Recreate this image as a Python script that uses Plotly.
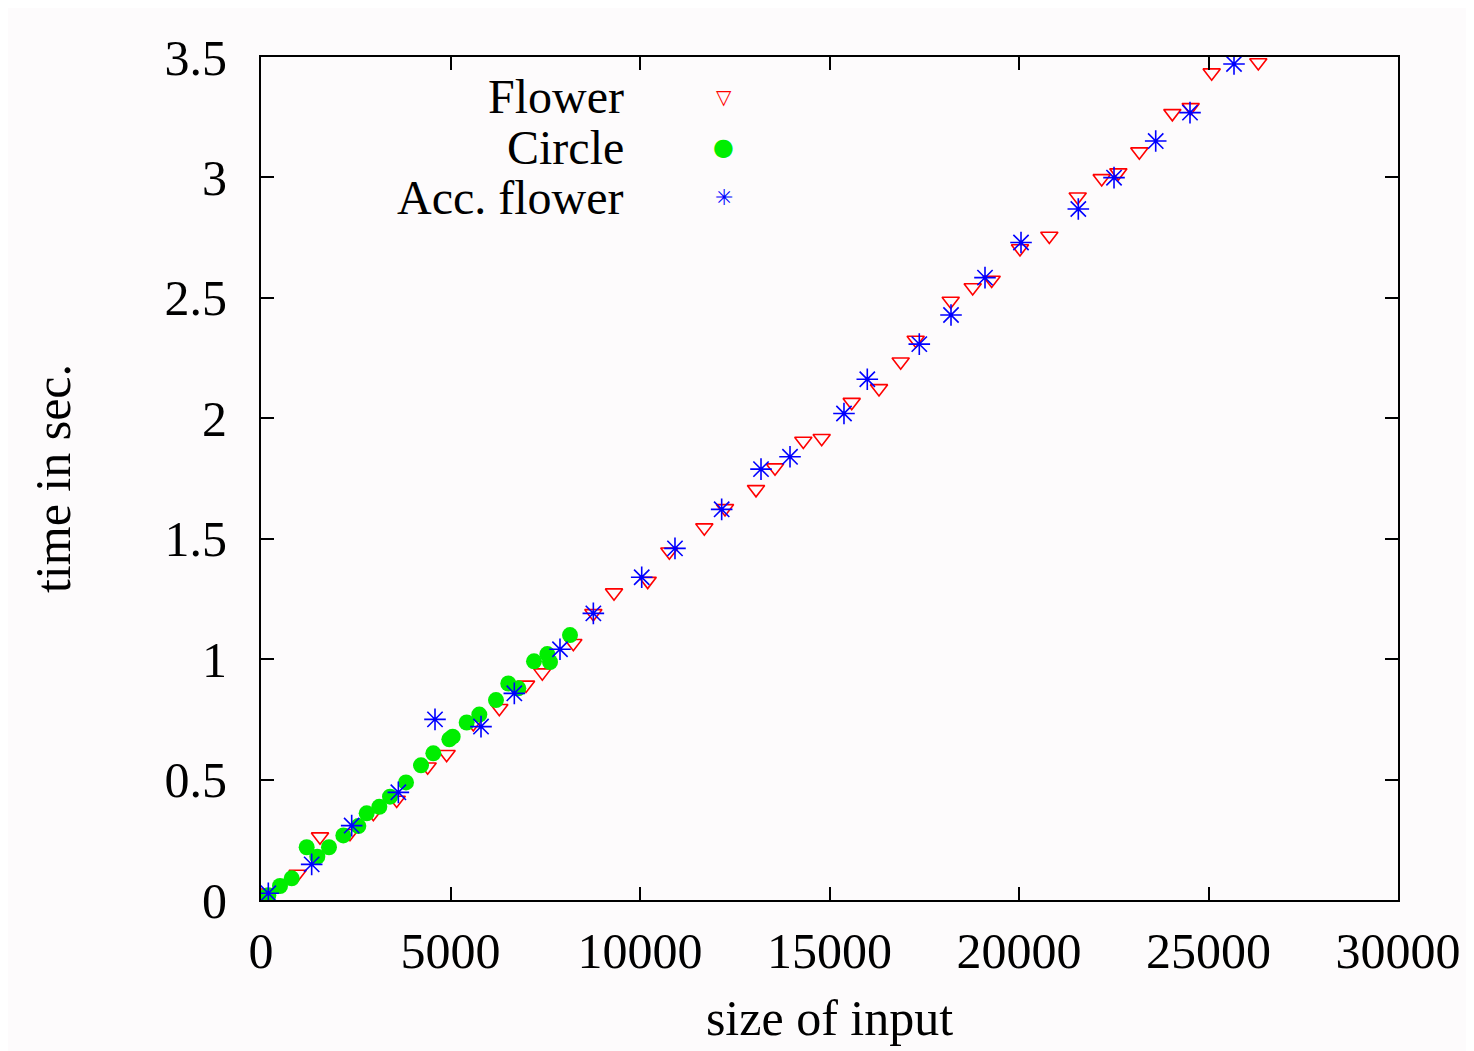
import plotly.graph_objects as go

# ---- data ----
flower_x = [185, 968, 1557, 2348, 2964, 3580, 4397, 4898, 5602, 6288, 6992, 7423, 8241, 8769,
            9314, 10203, 10774, 11697, 12243, 13061, 13562, 14309, 14794, 15586, 16306, 16878,
            17274, 18198, 18778, 19279, 20026, 20800, 21549, 22182, 22621, 23175, 24046, 24530,
            25084, 26314]
flower_y = [0.03, 0.108, 0.263, 0.277, 0.36, 0.415, 0.553, 0.605, 0.733, 0.796, 0.893, 0.944,
            1.066, 1.19, 1.276, 1.324, 1.446, 1.546, 1.626, 1.705, 1.795, 1.906, 1.917, 2.067,
            2.124, 2.235, 2.325, 2.487, 2.543, 2.574, 2.705, 2.757, 2.92, 2.996, 3.02, 3.107,
            3.266, 3.291, 3.435, 3.477]

circle_x = [100, 193, 501, 810, 1205, 1486, 1794, 2172, 2568, 2788, 3122, 3404, 3826, 4222,
            4547, 4969, 5057, 5427, 5760, 6200, 6525, 6789, 7203, 7554, 7625, 8153]
circle_y = [0.01, 0.02, 0.058, 0.09, 0.219, 0.18, 0.219, 0.268, 0.307, 0.36, 0.387, 0.429,
            0.488, 0.559, 0.609, 0.667, 0.678, 0.737, 0.77, 0.83, 0.899, 0.879, 0.991, 1.021,
            0.988, 1.10]

acc_x = [193, 1337, 2393, 3624, 4591, 5805, 6684, 7889, 8769, 10045, 10923, 12155, 13193,
         13958, 15382, 15997, 17369, 18206, 19103, 20053, 21565, 22507, 23607, 24512, 25673]
acc_y = [0.028, 0.148, 0.309, 0.447, 0.750, 0.720, 0.858, 1.041, 1.190, 1.340, 1.460, 1.622,
         1.789, 1.840, 2.020, 2.162, 2.308, 2.429, 2.584, 2.730, 2.869, 2.999, 3.151, 3.269,
         3.471]

x_ticks = [0, 5000, 10000, 15000, 20000, 25000, 30000]
y_ticks = [0, 0.5, 1, 1.5, 2, 2.5, 3, 3.5]
y_tick_labels = ["0", "0.5", "1", "1.5", "2", "2.5", "3", "3.5"]

legend_names = ["Flower", "Circle", "Acc. flower"]
legend_glyphs = ["\u25BD", "\u25CF", "\u2733"]
legend_colors = ["#ff0000", "#00ee00", "#0000ff"]
legend_glyph_sizes = [20, 24, 22]

FONT = "Liberation Serif, Times New Roman, serif"
BG = "#fdfbfc"

fig = go.Figure()
fig.add_trace(go.Scatter(
    x=flower_x, y=flower_y, mode="markers", name="Flower",
    marker=dict(symbol="triangle-down-open", size=15, color="#ff0000",
                line=dict(color="#ff0000", width=1.6)),
))
fig.add_trace(go.Scatter(
    x=circle_x, y=circle_y, mode="markers", name="Circle",
    marker=dict(symbol="circle", size=16, color="#00ee00", line=dict(width=0)),
))
fig.add_trace(go.Scatter(
    x=acc_x, y=acc_y, mode="markers", name="Acc. flower",
    marker=dict(symbol="asterisk-open", size=18, color="#0000ff",
                line=dict(color="#2020ff", width=1.6)),
))

axis_common = dict(
    showgrid=False, zeroline=False, showline=True, linecolor="black", linewidth=2,
    mirror="ticks", ticks="inside", ticklen=13, tickwidth=2, tickcolor="black",
    tickfont=dict(family=FONT, size=50, color="black"),
)

fig.update_xaxes(
    range=[0, 30000], tickvals=x_ticks, ticktext=[str(v) for v in x_ticks],
    ticklabelstandoff=6,
    title=dict(text="size of input", font=dict(family=FONT, size=50, color="black"), standoff=22),
    **axis_common,
)
fig.update_yaxes(
    range=[0, 3.5], tickvals=y_ticks, ticktext=y_tick_labels,
    ticklabelstandoff=22,
    title=dict(text="time in sec.", font=dict(family=FONT, size=50, color="black"), standoff=78),
    **axis_common,
)

# legend drawn gnuplot-style: right-aligned text, symbol to its right
ys = [0.953, 0.893, 0.833]
for name, glyph, col, gs, yy in zip(legend_names, legend_glyphs, legend_colors,
                                     legend_glyph_sizes, ys):
    fig.add_annotation(xref="paper", yref="paper", x=0.321, y=yy, text=name,
                       showarrow=False, xanchor="right", yanchor="middle",
                       font=dict(family=FONT, size=48, color="black"))
    fig.add_annotation(xref="paper", yref="paper", x=0.407, y=yy, text=glyph,
                       showarrow=False, xanchor="center", yanchor="middle",
                       font=dict(family="DejaVu Sans", size=gs, color=col))

fig.update_layout(
    width=1474, height=1051,
    margin=dict(l=253, r=84, t=49, b=159),
    paper_bgcolor=BG, plot_bgcolor=BG,
    showlegend=False,
)

fig.write_html("out.html")
